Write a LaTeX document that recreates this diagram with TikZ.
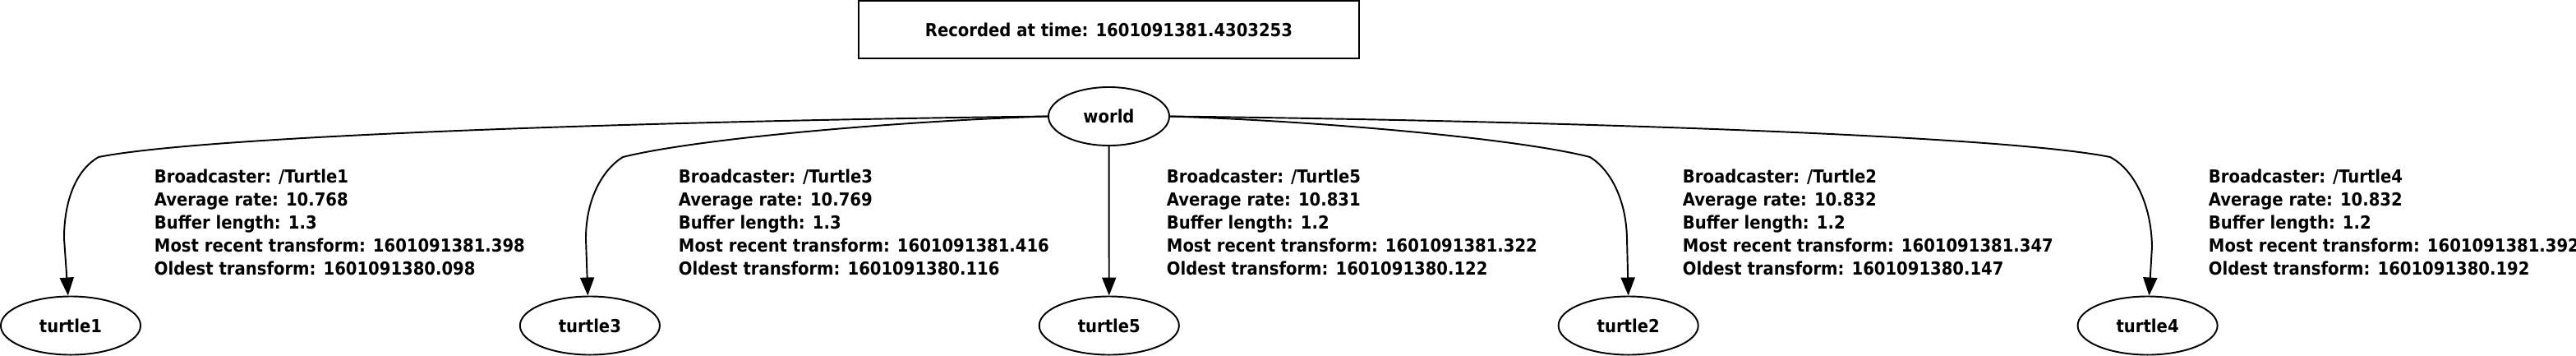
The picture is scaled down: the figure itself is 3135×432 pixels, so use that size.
\documentclass[tikz,border=0pt]{standalone}
\usepackage{fontspec}
\setmainfont{DejaVu Sans Condensed}[BoldFont={DejaVu Sans Condensed Bold}]
\usetikzlibrary{arrows.meta,shapes.geometric}
\begin{document}
\begin{tikzpicture}[x=0.01cm, y=-0.01cm, line width=0.55pt,
        >={Triangle[length=2.2mm, width=1.7mm]},
        every node/.style={font=\fontsize{6.2}{7.97}\selectfont\bfseries},
        frame/.style={ellipse, draw, minimum width=1.7cm, minimum height=0.71cm, inner sep=0pt},
        stamp/.style={rectangle, draw, minimum width=6.09cm, minimum height=0.70cm},
        info/.style={anchor=north west, align=left, inner sep=0pt}]
        \useasboundingbox (0,0) rectangle (3135,432);
        \node[stamp] (stamp) at (1349.5,36) {Recorded at time: 1601091381.4303253};
        \node[frame, minimum width=1.47cm] (world) at (1349.5,141.5) {world};
        \foreach \t [count=\i from 0] in {1,3,5,2,4} {
                \node[frame] (turtle\t) at (86+631.9*\i,396) {turtle\t};
            }
        \foreach \t/\x/\r/\b/\m/\o in {1/187/10.768/1.3/1601091381.398/1601091380.098,
                3/825/10.769/1.3/1601091381.416/1601091380.116,
                5/1419/10.831/1.2/1601091381.322/1601091380.122,
                2/2047/10.832/1.2/1601091381.347/1601091380.147,
                4/2687/10.832/1.2/1601091381.392/1601091380.192} {
                \node[info] (info\t) at (\x,205) {Broadcaster: /Turtle\t\\Average rate: \r\\Buffer length: \b\\Most recent transform: \m\\Oldest transform: \o};
            }
        \draw[->] (world.west) .. controls (800,147) and (250,165) .. (120,191) .. controls (95,205) and (78,240) .. (78,290) -- (turtle1.95);
        \draw[->] (world.west) .. controls (1100,147) and (850,168) .. (758,191) .. controls (735,205) and (713,240) .. (713,290) -- (turtle3.94);
        \draw[->] (world) -- (turtle5);
        \draw[->] (world.east) .. controls (1600,147) and (1845,168) .. (1935,191) .. controls (1958,205) and (1979,240) .. (1980,290) -- (turtle2.north);
        \draw[->] (world.east) .. controls (1900,147) and (2440,165) .. (2568,191) .. controls (2595,205) and (2618,245) .. (2619,300) -- (turtle4.87);
    \end{tikzpicture}
\end{document}
